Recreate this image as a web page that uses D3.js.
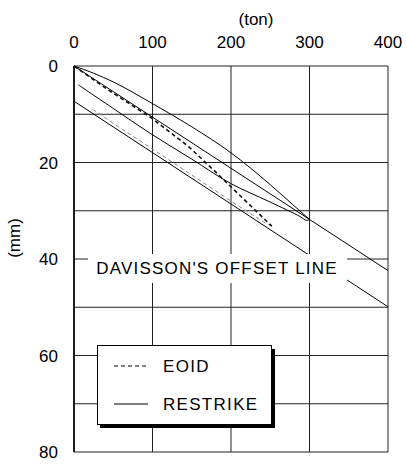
<!DOCTYPE html>
<html>
<head>
<meta charset="utf-8">
<script src="https://cdn.jsdelivr.net/npm/d3@7"></script>
<style>
  body { margin: 0; background: #fff; }
  text { font-family: "Liberation Sans", Arial, sans-serif; fill: #000; }
</style>
</head>
<body>
<svg id="chart" width="407" height="464"></svg>
<script>
// load in ton, settlement in mm
xTicks = [0, 100, 200, 300, 400];
yTicks = [0, 20, 40, 60, 80];
xGrid = [0, 100, 200, 300, 400];
yGrid = [0, 10, 20, 30, 40, 50, 60, 70, 80];

restrikeLoad = [[0, 0], [25, 1.5], [50, 3.3], [100, 7.8], [150, 12.6], [200, 18.0], [250, 24.6], [284, 29.5], [300, 31.8]];
restrikeUnload = [[300, 31.8], [296, 32.0], [288, 31.2], [250, 28.2], [199, 24.3], [150, 19.3], [97, 13.95], [50, 8.8], [5.5, 3.9]];
elasticLine = [[0, 0], [400, 42.4]];
davissonLine = [[0, 7.3], [400, 49.9]];
eoidLoad = [[0, 0], [44, 5.0], [99, 10.8], [146, 16.7], [180, 21.9], [222, 28.5], [252, 33.2]];
eoidUnload = [[252, 33.2], [240, 32.2], [200, 28.0], [150, 22.6], [100, 17.2], [50, 11.9], [25, 9.1]];

legendItems = [{label: "EOID", dash: "4,3"}, {label: "RESTRIKE", dash: null}];

svg = d3.select("#chart");
x = d3.scaleLinear().domain([0, 400]).range([74, 388]);
y = d3.scaleLinear().domain([0, 80]).range([66, 452]);
line = d3.line().x(d => x(d[0])).y(d => y(d[1]));

// grid
svg.selectAll("line.vgrid").data(xGrid).enter().append("line")
    .attr("x1", d => x(d)).attr("x2", d => x(d))
    .attr("y1", y(0)).attr("y2", y(80))
    .attr("stroke", "#222").attr("stroke-width", 1);
svg.selectAll("line.hgrid").data(yGrid).enter().append("line")
    .attr("x1", x(0)).attr("x2", x(400))
    .attr("y1", d => y(d)).attr("y2", d => y(d))
    .attr("stroke", "#222").attr("stroke-width", 1);
svg.append("line")
    .attr("x1", x(0)).attr("x2", x(0)).attr("y1", y(0)).attr("y2", y(80))
    .attr("stroke", "#000").attr("stroke-width", 1.6);

// curves
svg.append("path").attr("d", line(elasticLine)).attr("fill", "none").attr("stroke", "#000").attr("stroke-width", 1);
svg.append("path").attr("d", line(davissonLine)).attr("fill", "none").attr("stroke", "#000").attr("stroke-width", 1);
svg.append("path").attr("d", line.curve(d3.curveMonotoneX)(restrikeLoad)).attr("fill", "none").attr("stroke", "#000").attr("stroke-width", 1);
svg.append("path").attr("d", d3.line().x(d => x(d[0])).y(d => y(d[1])).curve(d3.curveCatmullRom)(restrikeUnload))
    .attr("fill", "none").attr("stroke", "#000").attr("stroke-width", 1);
line.curve(d3.curveLinear);
svg.append("path").attr("d", line(eoidUnload)).attr("fill", "none")
    .attr("stroke", "#888").attr("stroke-width", 1).attr("stroke-dasharray", "4,3");
svg.append("path").attr("d", line(eoidLoad)).attr("fill", "none")
    .attr("stroke", "#111").attr("stroke-width", 1.6).attr("stroke-dasharray", "4,3");

// axis labels
svg.selectAll("text.xtick").data(xTicks).enter().append("text")
    .attr("x", d => x(d)).attr("y", 48)
    .attr("text-anchor", "middle").attr("font-size", 17)
    .text(d => d);
svg.selectAll("text.ytick").data(yTicks).enter().append("text")
    .attr("x", 58).attr("y", d => y(d) + 6)
    .attr("text-anchor", "end").attr("font-size", 17)
    .text(d => d);
svg.append("text").attr("x", 256).attr("y", 25)
    .attr("text-anchor", "middle").attr("font-size", 17).text("(ton)");
svg.append("text").attr("transform", "translate(20,238) rotate(-90)")
    .attr("text-anchor", "middle").attr("font-size", 17).text("(mm)");

// offset line label
svg.append("rect").attr("x", 88).attr("y", 254).attr("width", 259).attr("height", 29).attr("fill", "#fff");
svg.append("text").attr("x", 217).attr("y", 274)
    .attr("text-anchor", "middle").attr("font-size", 17).attr("letter-spacing", 1.2)
    .text("DAVISSON'S OFFSET LINE");

// legend
svg.append("rect").attr("x", 100).attr("y", 349).attr("width", 175).attr("height", 79).attr("fill", "#000");
svg.append("rect").attr("x", 97.5).attr("y", 345.5).attr("width", 174).attr("height", 79)
    .attr("fill", "#fff").attr("stroke", "#000").attr("stroke-width", 1);
legend = svg.selectAll("g.legend").data(legendItems).enter().append("g")
    .attr("transform", (d, i) => "translate(114," + (366 + i * 38) + ")");
legend.append("line").attr("x1", 0).attr("x2", 34).attr("y1", 0).attr("y2", 0)
    .attr("stroke", "#000").attr("stroke-width", 1)
    .attr("stroke-dasharray", d => d.dash);
legend.append("text").attr("x", 49).attr("y", 6).attr("font-size", 17).attr("letter-spacing", 1.3)
    .text(d => d.label);
</script>
</body>
</html>
